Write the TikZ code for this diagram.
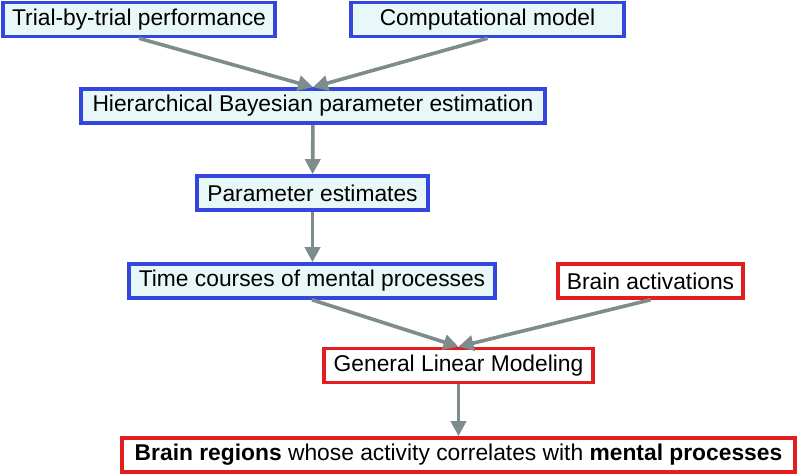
\documentclass[tikz,border=0pt]{standalone}
\usepackage{fontspec}
\setmainfont{Liberation Sans}
\usetikzlibrary{positioning, arrows.meta}

\definecolor{modelblue}{RGB}{52,70,222}
\definecolor{brainred}{RGB}{226,30,30}
\definecolor{modelfill}{RGB}{232,248,248}
\definecolor{linkgray}{RGB}{126,140,140}

\begin{document}
\begin{tikzpicture}[
    x = 1pt, y = -1pt,
    every node/.style = {
        rectangle, line width=3.6pt, minimum height=34pt, inner xsep=8pt, inner ysep=0pt,
        font=\fontsize{22.8}{26}\selectfont
    },
    model/.style = {draw=modelblue, fill=modelfill},
    brain/.style = {draw=brainred, fill=white},
    link/.style = {-{Triangle[length=15pt, width=15pt]}, draw=linkgray, line width=3.6pt}
  ]
    \useasboundingbox (0,0) rectangle (801,476);

    \node[model, minimum width=272pt] (trial) at (139,19.5) {Trial-by-trial performance};
    \node[model, minimum width=273pt] (compmodel) at (487.5,19.5) {Computational model};
    \node[model, minimum width=464pt] (hbayes) at (313,106) {Hierarchical Bayesian parameter estimation};
    \node[model, minimum width=231pt] (params) at (312.5,193) {Parameter estimates};
    \node[model, minimum width=366pt] (timecourse) at (312,281) {Time courses of mental processes};
    \node[brain, minimum width=185pt] (activation) at (650.5,281) {Brain activations};
    \node[brain, minimum width=269pt] (glm) at (458.5,365.5) {General Linear Modeling};
    \node[brain, minimum width=673pt] (regions) at (458.5,455)
        {\textbf{Brain regions} whose activity correlates with \textbf{mental processes}};

    \draw[link] (trial.south) -- (hbayes.north);
    \draw[link] (compmodel.south) -- (hbayes.north);
    \draw[link] (hbayes) -- (params);
    \draw[link] (params.south) -- (params.south |- timecourse.north);
    \draw[link] (timecourse.south) -- (glm.north);
    \draw[link] (activation.south) -- (glm.north);
    \draw[link] (glm) -- (regions);
\end{tikzpicture}
\end{document}
